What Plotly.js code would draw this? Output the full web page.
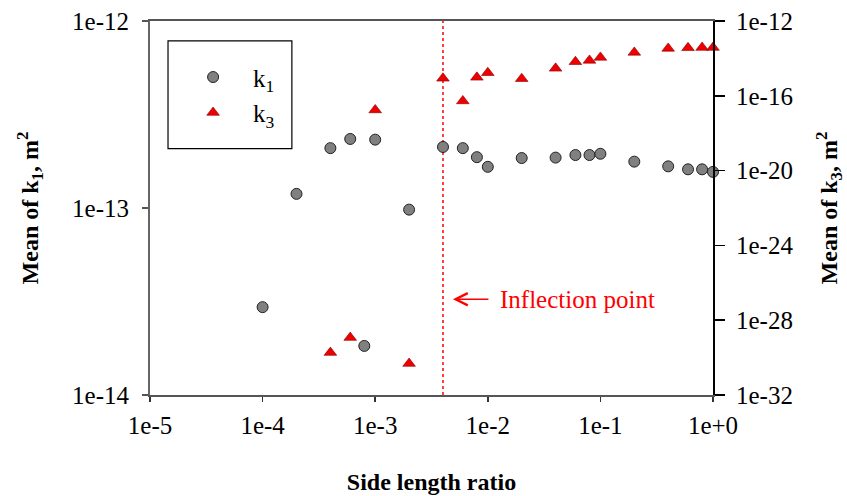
<!DOCTYPE html>
<html>
<head>
<meta charset="utf-8">
<script src="https://cdn.plot.ly/plotly-3.0.1.min.js"></script>
<style>html,body{margin:0;padding:0;background:#fff;}#chart{width:847px;height:496px;}</style>
</head>
<body>
<div id="chart"></div>
<script>
// Side length ratio (x) and mean permeabilities
const k1X = [1e-4, 2e-4, 4e-4, 6e-4, 8e-4, 1e-3, 2e-3, 4e-3, 6e-3, 8e-3, 1e-2, 2e-2, 4e-2, 6e-2, 8e-2, 1e-1, 2e-1, 4e-1, 6e-1, 8e-1, 1];
const k1Y = [2.95e-14, 1.19e-13, 2.09e-13, 2.34e-13, 1.83e-14, 2.32e-13, 9.8e-14, 2.12e-13, 2.09e-13, 1.87e-13, 1.66e-13, 1.85e-13, 1.86e-13, 1.92e-13, 1.92e-13, 1.95e-13, 1.77e-13, 1.67e-13, 1.61e-13, 1.61e-13, 1.56e-13];

const k3X = [4e-4, 6e-4, 1e-3, 2e-3, 4e-3, 6e-3, 8e-3, 1e-2, 2e-2, 4e-2, 6e-2, 8e-2, 1e-1, 2e-1, 4e-1, 6e-1, 8e-1, 1];
const k3Y = [1.85e-30, 1.17e-29, 1.75e-17, 4.8e-31, 8.6e-16, 5.3e-17, 9.7e-16, 1.71e-15, 8.2e-16, 2.93e-15, 6.6e-15, 7.8e-15, 1.13e-14, 2.09e-14, 3.41e-14, 3.67e-14, 3.8e-14, 3.8e-14];

const inflectionX = [4e-3, 4e-3];
const inflectionY = [1e-14, 1e-12];

const xTickVals = [1e-5, 1e-4, 1e-3, 1e-2, 1e-1, 1];
const xTickText = ['1e-5', '1e-4', '1e-3', '1e-2', '1e-1', '1e+0'];
const y1TickVals = [1e-14, 1e-13, 1e-12];
const y1TickText = ['1e-14', '1e-13', '1e-12'];
const y2TickVals = [1e-32, 1e-28, 1e-24, 1e-20, 1e-16, 1e-12];
const y2TickText = ['1e-32', '1e-28', '1e-24', '1e-20', '1e-16', '1e-12'];

const FONT = 'Liberation Serif';
const TICKFONT = {family: FONT, size: 25, color: '#000'};
const TITLEFONT = {family: FONT, size: 24, color: '#000'};

const traces = [
  {
    x: inflectionX, y: inflectionY, yaxis: 'y', mode: 'lines',
    line: {color: '#ff0000', width: 1.5, dash: 'dot'},
    showlegend: false, hoverinfo: 'skip'
  },
  {
    x: k1X, y: k1Y, yaxis: 'y', mode: 'markers', name: 'k<sub>1</sub>',
    marker: {symbol: 'circle', size: 11, color: '#808080', line: {color: '#222', width: 1}},
    cliponaxis: false
  },
  {
    x: k3X, y: k3Y, yaxis: 'y2', mode: 'markers', name: 'k<sub>3</sub>',
    marker: {symbol: 'triangle-up', size: 11, color: '#ee0000', line: {color: '#880000', width: 0.6}},
    cliponaxis: false
  }
];

const layout = {
  width: 847, height: 496,
  margin: {l: 150, r: 134, t: 21, b: 101},
  paper_bgcolor: '#fff', plot_bgcolor: '#fff',
  font: {family: FONT, size: 23, color: '#000'},
  showlegend: true,
  legend: {
    x: 0.041, y: 0.911, xanchor: 'left', yanchor: 'top',
    bgcolor: 'rgba(0,0,0,0)', borderwidth: 0,
    font: {family: FONT, size: 25, color: '#000'},
    itemwidth: 70, tracegroupgap: 5, traceorder: 'grouped'
  },
  xaxis: {
    type: 'log', range: [-5, 0],
    tickvals: xTickVals, ticktext: xTickText, tickfont: TICKFONT,
    ticks: 'outside', ticklen: 5, tickwidth: 1.5, tickcolor: '#333',
    ticklabelstandoff: 2,
    showline: true, linecolor: '#555', linewidth: 2, mirror: true,
    showgrid: false, zeroline: false,
    title: {text: '<b>Side length ratio</b>', font: TITLEFONT, standoff: 35}
  },
  yaxis: {
    type: 'log', range: [-14, -12],
    tickvals: y1TickVals, ticktext: y1TickText, tickfont: TICKFONT,
    ticks: 'outside', ticklen: 6, tickwidth: 1.5, tickcolor: '#555',
    ticklabelstandoff: 8,
    showline: true, linecolor: '#666', linewidth: 2,
    showgrid: false, zeroline: false,
    title: {text: '<b>Mean of k<sub>1</sub>, m<sup>2</sup></b>', font: TITLEFONT, standoff: 27}
  },
  yaxis2: {
    type: 'log', range: [-32, -12], overlaying: 'y', side: 'right',
    tickvals: y2TickVals, ticktext: y2TickText, tickfont: TICKFONT,
    ticks: 'outside', ticklen: 10, tickwidth: 1.5, tickcolor: '#000',
    ticklabelstandoff: 6,
    showline: true, linecolor: '#000', linewidth: 2,
    showgrid: false, zeroline: false,
    title: {text: '<b>Mean of k<sub>3</sub>, m<sup>2</sup></b>', font: TITLEFONT, standoff: 28}
  },
  shapes: [
    {type: 'rect', xref: 'paper', yref: 'paper', x0: 0.032, x1: 0.252, y0: 0.659, y1: 0.947,
     line: {color: '#000', width: 1.2}, fillcolor: 'rgba(0,0,0,0)'}
  ],
  annotations: [
    {xref: 'x', yref: 'paper', x: Math.log10(0.0049), y: 0.256, text: '', showarrow: true,
     ax: 37, ay: 0, arrowhead: 5, arrowsize: 1.6, arrowwidth: 1.5, arrowcolor: '#ff0000'},
    {xref: 'x', yref: 'paper', x: Math.log10(0.0124), y: 0.256, text: 'Inflection point', showarrow: false,
     xanchor: 'left', yanchor: 'middle', font: {family: FONT, size: 25, color: '#ff0000'}}
  ]
};

Plotly.newPlot('chart', traces, layout, {displayModeBar: false, staticPlot: true});
</script>
</body>
</html>
